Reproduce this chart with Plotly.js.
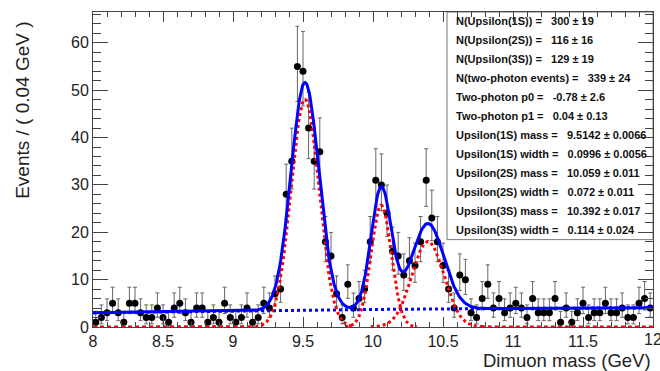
<!DOCTYPE html>
<html><head><meta charset="utf-8">
<script src="https://cdn.plot.ly/plotly-3.0.1.min.js"></script>
<style>html,body{margin:0;padding:0;background:#fff;overflow:hidden;}#chart{width:660px;height:371px;}</style>
</head><body><div id="chart"></div>
<script>
// ---- data: dimuon mass histogram, 0.04 GeV bins ----
const binCenters = [8.02,8.06,8.10,8.14,8.18,8.22,8.26,8.30,8.34,8.38,
  8.42,8.46,8.50,8.54,8.58,8.62,8.66,8.70,8.74,8.78,
  8.82,8.86,8.90,8.94,8.98,9.02,9.06,9.10,9.14,9.18,
  9.22,9.26,9.30,9.34,9.38,9.42,9.46,9.50,9.54,9.58,
  9.62,9.66,9.70,9.74,9.78,9.82,9.86,9.90,9.94,9.98,
  10.02,10.06,10.10,10.14,10.18,10.22,10.26,10.30,10.34,10.38,
  10.42,10.46,10.50,10.54,10.58,10.62,10.66,10.70,10.74,10.78,
  10.82,10.86,10.90,10.94,10.98,11.02,11.06,11.10,11.14,11.18,
  11.22,11.26,11.30,11.34,11.38,11.42,11.46,11.50,11.54,11.58,
  11.62,11.66,11.70,11.74,11.78,11.82,11.86,11.90,11.94,11.98];
const counts = [1,2,3,5,3,1,5,5,3,2,
  2,4,2,1,4,5,3,1,4,4,
  1,2,1,5,2,1,2,4,1,2,
  5,4,7,8,28,35,55,54,42,35,
  37,18,15,7,2,9,4,6,8,18,
  31,30,24,16,15,11,14,13,18,31,
  23,18,13,8,4,11,10,3,2,6,
  9,4,6,3,4,5,4,2,6,3,
  3,3,6,1,4,1,3,5,2,3,
  3,5,3,3,4,2,2,5,6,4];
const binWidth = 0.04;
const xTickVals = [8, 8.5, 9, 9.5, 10, 10.5, 11, 11.5, 12];

// ---- fit results (from the parameter box) ----
const peakYields = [300, 116, 129];
const peakMasses = [9.5142, 10.059, 10.392];
const peakWidths = [0.0996, 0.072, 0.114];
// two-photon background level (events/bin)
const bgX = [8, 10, 12];
const bgY = [3.0, 3.7, 4.05];

const boxLabels = ['N(Upsilon(1S))','N(Upsilon(2S))','N(Upsilon(3S))','N(two-photon events)',
  'Two-photon p0','Two-photon p1','Upsilon(1S) mass','Upsilon(1S) width',
  'Upsilon(2S) mass','Upsilon(2S) width','Upsilon(3S) mass','Upsilon(3S) width'];
const boxValues = ['300','116','129','339','-0.78','0.04','9.5142','0.0996','10.059','0.072','10.392','0.114'];
const boxErrors = ['19','16','19','24','2.6','0.13','0.0066','0.0056','0.011','0.011','0.017','0.024'];

// ---- model functions ----
function gauss(x, N, m, s){ return N*binWidth/(Math.sqrt(2*Math.PI)*s)*Math.exp(-0.5*((x-m)/s)**2); }
function bg(x){ // quadratic through the three read levels
  let r = 0;
  for (let i=0;i<3;i++){ let t = bgY[i]; for (let j=0;j<3;j++) if (j!==i) t *= (x-bgX[j])/(bgX[i]-bgX[j]); r += t; }
  return r;
}
const xs = [];
for (let k=0;k<=800;k++) xs.push(8 + k*0.005);
const sigSum = x => [0,1,2].reduce((a,i)=>a+gauss(x, peakYields[i], peakMasses[i], peakWidths[i]),0);

// Poisson (Garwood-like) asymmetric errors
const errUp = counts.map(n => Math.sqrt(n+0.75)+1);
const errDn = counts.map(n => n>0 ? Math.sqrt(n-0.25) : 0);

const traces = [];
traces.push({x: binCenters, y: counts, type:'scatter', mode:'markers',
  marker:{color:'#000', size:7},
  error_y:{type:'data', symmetric:false, array: errUp, arrayminus: errDn, color:'#666', thickness:1, width:2},
  hoverinfo:'skip', showlegend:false});
traces.push({x: xs, y: xs.map(bg), type:'scatter', mode:'lines',
  line:{color:'#0000ff', width:3, dash:'dot'}, showlegend:false, hoverinfo:'skip'});
// signal tails along the baseline (one dotted line where all components are ~0)
traces.push({x: xs, y: xs.map(x => sigSum(x) < 0.08 ? sigSum(x) : null), type:'scatter', mode:'lines',
  line:{color:'#ff0000', width:3, dash:'4px,3px'}, showlegend:false, hoverinfo:'skip', connectgaps:false});
for (let i=0;i<3;i++){
  const m = peakMasses[i], s = peakWidths[i];
  const xi = xs.filter(x => Math.abs(x-m) < 3.6*s);
  traces.push({x: xi, y: xi.map(x => gauss(x, peakYields[i], m, s)), type:'scatter', mode:'lines',
    line:{color:'#ff0000', width:3, dash:'dot'}, showlegend:false, hoverinfo:'skip'});
}
traces.push({x: xs, y: xs.map(x => bg(x) + sigSum(x)),
  type:'scatter', mode:'lines', line:{color:'#0000ff', width:3}, showlegend:false, hoverinfo:'skip'});

const FONT = 'Liberation Sans, Arial, Helvetica, sans-serif';
const annotations = [];
const lineTop = 21, lineStep = 19.05, plotTop = 12, plotH = 315.5;
boxLabels.forEach((lab, i) => {
  const py = lineTop + i*lineStep;
  annotations.push({xref:'paper', yref:'paper', x:(454-93)/560, y:(plotTop+plotH-py)/plotH,
    xanchor:'left', yanchor:'middle', showarrow:false,
    text: '<b>' + lab + ' =\u00a0\u00a0 ' + boxValues[i] + ' ± ' + boxErrors[i] + '</b>',
    font:{family:FONT, size:11, color:'#111'}});
});
annotations.push({xref:'paper', yref:'paper', x:(23-93)/560, y:(327.5-111)/plotH, xanchor:'center', yanchor:'middle',
  textangle:-90, showarrow:false, text:'Events / ( 0.04 GeV )', font:{family:FONT, size:19, color:'#222'}});
annotations.push({xref:'paper', yref:'paper', x:1, y:(327.5-361)/plotH, xanchor:'right', yanchor:'middle',
  showarrow:false, text:'Dimuon mass (GeV)', font:{family:FONT, size:18.5, color:'#222'}});
// last x tick label, which runs past the page edge as in the original
annotations.push({xref:'x', yref:'paper', x:xTickVals[xTickVals.length-1], y:(327.5-340)/plotH, xanchor:'center', yanchor:'middle',
  showarrow:false, text:String(xTickVals[xTickVals.length-1]), font:{family:FONT, size:16, color:'#222'}});

const layout = {
  width:660, height:371,
  margin:{l:93, r:7, t:12, b:43.5},
  paper_bgcolor:'#fff', plot_bgcolor:'#fff',
  font:{family:FONT, color:'#222'},
  xaxis:{range:[8,12], tickmode:'array', tickvals:xTickVals, ticks:'inside', ticklen:10, tickcolor:'#444', tickwidth:1,
    minor:{dtick:0.1, tick0:8, ticks:'inside', ticklen:5, tickcolor:'#444'},
    showline:true, linecolor:'#444', linewidth:1, mirror:'ticks', showgrid:false, zeroline:false,
    tickfont:{size:16, color:'#222'}},
  yaxis:{range:[0,66.5], dtick:10, tick0:0, ticks:'inside', ticklen:15, tickcolor:'#444', tickwidth:1,
    minor:{dtick:2, ticks:'inside', ticklen:8, tickcolor:'#444'},
    showline:true, linecolor:'#444', linewidth:1, mirror:'ticks', showgrid:false, zeroline:false,
    tickfont:{size:16, color:'#222'}},
  shapes:[{type:'rect', xref:'paper', yref:'paper', x0:(447-93)/560, x1:1, y0:(327.5-240)/plotH, y1:1,
    line:{color:'#777', width:1}, fillcolor:'#fff', layer:'below'}],
  annotations: annotations,
  showlegend:false
};
Plotly.newPlot('chart', traces, layout, {displayModeBar:false, staticPlot:true});
</script>
</body></html>
